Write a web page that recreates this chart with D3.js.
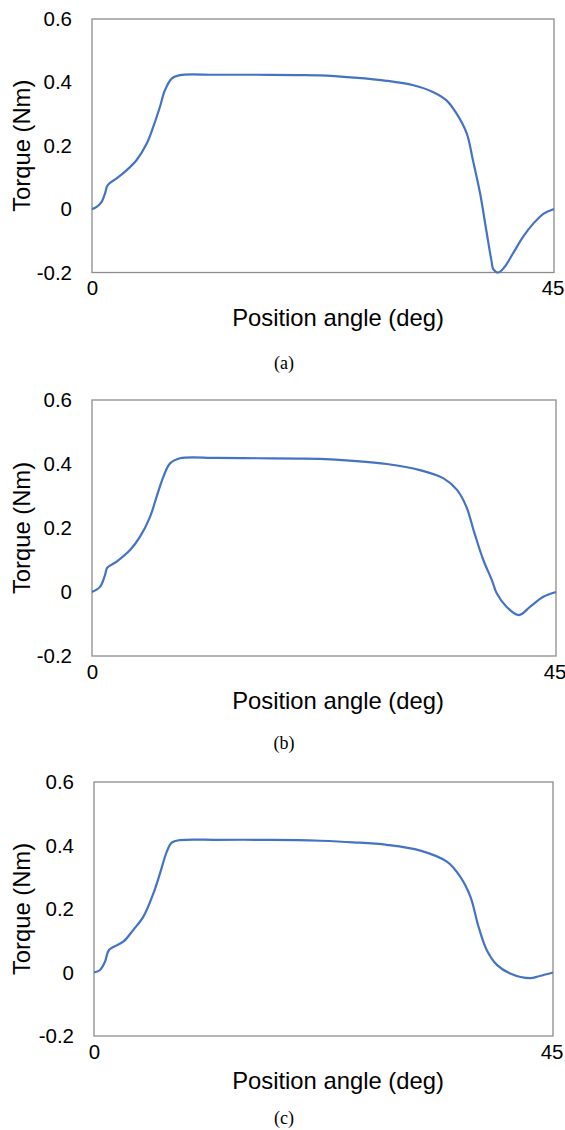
<!DOCTYPE html>
<html>
<head>
<meta charset="utf-8">
<script src="https://cdn.jsdelivr.net/npm/d3@7"></script>
<style>
  body { margin: 0; background: #fff; }
  svg { display: block; }
</style>
</head>
<body>
<div id="main"></div>
<script>
// DATA (deg, Nm)
const angle_a  = [0, 0.45, 0.94, 1.27, 1.53, 2.4, 3.38, 4.35, 5.33, 5.97, 6.62, 7.1, 7.76, 8.57, 12, 16, 20, 22.2, 25.5, 28.7, 31.3, 33.2, 34.5, 35.5, 36.5, 37.1, 37.8, 38.4, 38.9, 39.1, 39.6, 40.2, 41.0, 42.0, 43.0, 44.0, 44.9, 45]
const torque_a = [0, 0.007, 0.023, 0.05, 0.076, 0.097, 0.123, 0.155, 0.207, 0.26, 0.323, 0.375, 0.412, 0.423, 0.424, 0.424, 0.423, 0.422, 0.415, 0.405, 0.391, 0.37, 0.344, 0.302, 0.239, 0.155, 0.05, -0.066, -0.161, -0.19, -0.2, -0.182, -0.14, -0.087, -0.045, -0.014, -0.001, 0]

const angle_b  = [0, 0.78, 1.26, 1.48, 2.39, 3.69, 4.66, 5.63, 6.27, 6.92, 7.57, 8.54, 12, 16, 20, 22.1, 25.3, 28.6, 31.8, 34.1, 35.4, 36.3, 37.1, 37.95, 38.77, 39.25, 40.2, 41.4, 42.5, 43.77, 45]
const torque_b = [0, 0.016, 0.053, 0.076, 0.095, 0.131, 0.173, 0.235, 0.298, 0.36, 0.402, 0.418, 0.419, 0.418, 0.417, 0.416, 0.41, 0.4, 0.381, 0.355, 0.319, 0.267, 0.183, 0.1, 0.038, -0.004, -0.046, -0.072, -0.046, -0.015, 0]

const angle_c  = [0, 0.59, 1.08, 1.47, 2.87, 3.85, 4.84, 5.82, 6.47, 7.13, 7.62, 8.43, 12, 16, 20, 22.2, 25.4, 28.7, 32, 34.6, 35.9, 36.9, 37.7, 38.5, 39.5, 40.8, 42.75, 43.7, 45]
const torque_c = [0, 0.008, 0.034, 0.071, 0.097, 0.134, 0.176, 0.249, 0.312, 0.38, 0.409, 0.417, 0.418, 0.418, 0.417, 0.415, 0.41, 0.402, 0.384, 0.349, 0.302, 0.239, 0.144, 0.071, 0.024, -0.003, -0.018, -0.011, 0]

const y_ticks = [0.6, 0.4, 0.2, 0, -0.2]
const y_labels = ["0.6", "0.4", "0.2", "0", "-0.2"]
const x_ticks = [0, 45]
const captions = ["(a)", "(b)", "(c)"]

// LAYOUT
const width = 565
const height = 1130
const blue = '#4472C4'
const frame = '#8c8c8c'
const sans = "'Liberation Sans', Arial, sans-serif"

const panels = [
  {x: angle_a, y: torque_a, left: 92, right: 554, top: 19,  bottom: 272.5, cap: 369},
  {x: angle_b, y: torque_b, left: 92, right: 556, top: 400, bottom: 656,   cap: 749},
  {x: angle_c, y: torque_c, left: 94, right: 553, top: 782, bottom: 1036,  cap: 1124}
]

let svg = d3.select("#main").append("svg")
  .attr("width", width)
  .attr("height", height)
  .style("font-family", sans)

panels.forEach(function(p, i){
  let xs = d3.scaleLinear().domain([0, 45]).range([p.left, p.right])
  let ys = d3.scaleLinear().domain([-0.2, 0.6]).range([p.bottom, p.top])
  let g = svg.append("g")

  // plot frame
  g.append("rect")
    .attr("x", p.left).attr("y", p.top)
    .attr("width", p.right - p.left).attr("height", p.bottom - p.top)
    .attr("fill", "none").attr("stroke", frame).attr("stroke-width", 1.3)

  // y axis labels
  let yAxis = d3.axisLeft(ys).tickValues(y_ticks).tickSize(0).tickPadding(20)
    .tickFormat((d, k) => y_labels[k])
  g.append("g").attr("transform", `translate(${p.left},0)`).call(yAxis)
    .call(a => a.select(".domain").remove())
    .selectAll("text").attr("font-size", 20.5).attr("fill", "#000")
    .attr("font-family", sans)

  // x axis labels
  let xAxis = d3.axisBottom(xs).tickValues(x_ticks).tickSize(0).tickPadding(8)
  g.append("g").attr("transform", `translate(0,${p.bottom})`).call(xAxis)
    .call(a => a.select(".domain").remove())
    .selectAll("text").attr("font-size", 20.5).attr("fill", "#000")
    .attr("font-family", sans)
    .attr("text-anchor", d => d === 45 ? "end" : "middle")
    .attr("dx", d => d === 45 ? 10 : 0)

  // titles
  g.append("text")
    .attr("transform", `translate(30,${(p.top + p.bottom) / 2}) rotate(-90)`)
    .attr("text-anchor", "middle")
    .attr("font-size", 23.8)
    .text("Torque (Nm)")

  g.append("text")
    .attr("x", 338).attr("y", p.bottom + 53)
    .attr("text-anchor", "middle")
    .attr("font-size", 23.8)
    .text("Position angle (deg)")

  // caption
  g.append("text")
    .attr("x", 284).attr("y", p.cap)
    .attr("text-anchor", "middle")
    .attr("font-size", 18)
    .attr("font-family", "'Liberation Serif', 'DejaVu Serif', serif")
    .text(captions[i])

  // curve
  let line = d3.line()
    .x(d => xs(d[0]))
    .y(d => ys(d[1]))
    .curve(d3.curveCatmullRom.alpha(0.5))

  g.append("path")
    .datum(d3.zip(p.x, p.y))
    .attr("d", line)
    .attr("fill", "none")
    .attr("stroke", blue)
    .attr("stroke-width", 2.2)
    .attr("stroke-linejoin", "round")
})
</script>
</body>
</html>
